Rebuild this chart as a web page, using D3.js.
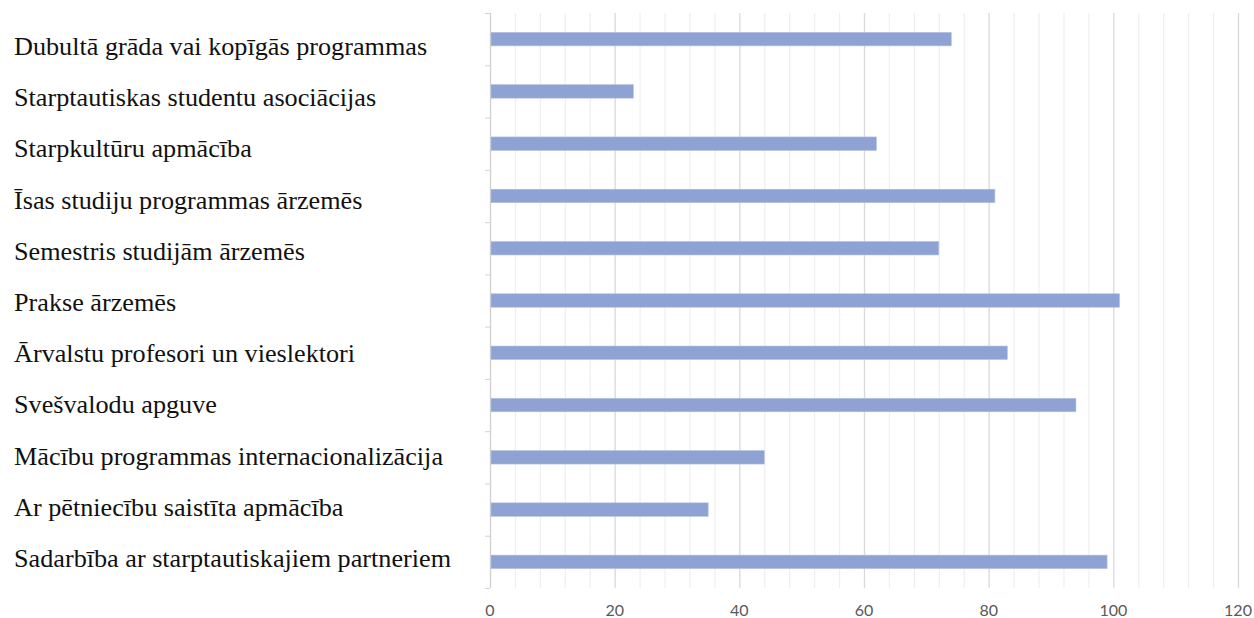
<!DOCTYPE html>
<html>
<head>
<meta charset="utf-8">
<script src="https://cdn.jsdelivr.net/npm/d3@7"></script>
<style>
html,body{margin:0;padding:0;background:#fff;}
svg{display:block;}
</style>
</head>
<body>
<svg id="chart" width="1254" height="618"></svg>
<script>
const categories = [
  "Dubultā grāda vai kopīgās programmas",
  "Starptautiskas studentu asociācijas",
  "Starpkultūru apmācība",
  "Īsas studiju programmas ārzemēs",
  "Semestris studijām ārzemēs",
  "Prakse ārzemēs",
  "Ārvalstu profesori un vieslektori",
  "Svešvalodu apguve",
  "Mācību programmas internacionalizācija",
  "Ar pētniecību saistīta apmācība",
  "Sadarbība ar starptautiskajiem partneriem"
];
const values = [74, 23, 62, 81, 72, 101, 83, 94, 44, 35, 99];
const tickValues = [0, 20, 40, 60, 80, 100, 120];
const minorTicks = d3.range(0, 121, 4);

(function () {
const svg = d3.select("#chart");
const pLeft = 490, pRight = 1238, pTop = 13, pBottom = 588;

const x = d3.scaleLinear().domain([0, 120]).range([pLeft, pRight]);
const y = d3.scaleBand().domain(categories).range([pTop, pBottom]).paddingInner(0.742).paddingOuter(0.371);
const yLabel = d3.scalePoint().domain(categories).range([55, 567]);

// minor gridlines
svg.append("g").selectAll("line").data(minorTicks.filter(v => v % 20 !== 0)).join("line")
  .attr("x1", d => x(d) + 0.5).attr("x2", d => x(d) + 0.5)
  .attr("y1", pTop).attr("y2", pBottom)
  .attr("stroke", "#efefef").attr("stroke-width", 1.2);

// major gridlines
svg.append("g").selectAll("line").data(tickValues.filter(v => v > 0)).join("line")
  .attr("x1", d => x(d) + 0.5).attr("x2", d => x(d) + 0.5)
  .attr("y1", pTop).attr("y2", pBottom)
  .attr("stroke", "#d9d9d9").attr("stroke-width", 1.3);

// category axis line + ticks at boundaries
svg.append("line")
  .attr("x1", pLeft + 0.5).attr("x2", pLeft + 0.5)
  .attr("y1", pTop).attr("y2", pBottom)
  .attr("stroke", "#cfcfcf").attr("stroke-width", 1.3);
const boundaries = d3.range(categories.length + 1).map(i => pTop + i * (pBottom - pTop) / categories.length);
svg.append("g").selectAll("line").data(boundaries).join("line")
  .attr("x1", pLeft - 5).attr("x2", pLeft)
  .attr("y1", d => d + 0.5).attr("y2", d => d + 0.5)
  .attr("stroke", "#d6d6d6").attr("stroke-width", 1.1);

// bars
svg.append("g").selectAll("rect").data(categories).join("rect")
  .attr("x", x(0) + 1)
  .attr("y", d => y(d))
  .attr("width", (d, i) => x(values[i]) - x(0) - 1)
  .attr("height", y.bandwidth())
  .attr("fill", "#8ea2d4")
  .attr("stroke", "#b4c1e4").attr("stroke-width", 0.6);

// category labels
svg.append("g").selectAll("text").data(categories).join("text")
  .attr("x", 14)
  .attr("y", d => yLabel(d))
  .attr("font-family", "'Liberation Serif', 'Times New Roman', serif")
  .attr("font-size", 26.2)
  .attr("fill", "#111")
  .text(d => d);

// value tick labels
svg.append("g").selectAll("text").data(tickValues).join("text")
  .attr("x", d => x(d))
  .attr("y", 616)
  .attr("text-anchor", "middle")
  .attr("font-family", "Lato, 'Open Sans', sans-serif")
  .attr("font-size", 16)
  .attr("fill", "#595959")
  .text(d => d);
})();
</script>
</body>
</html>
